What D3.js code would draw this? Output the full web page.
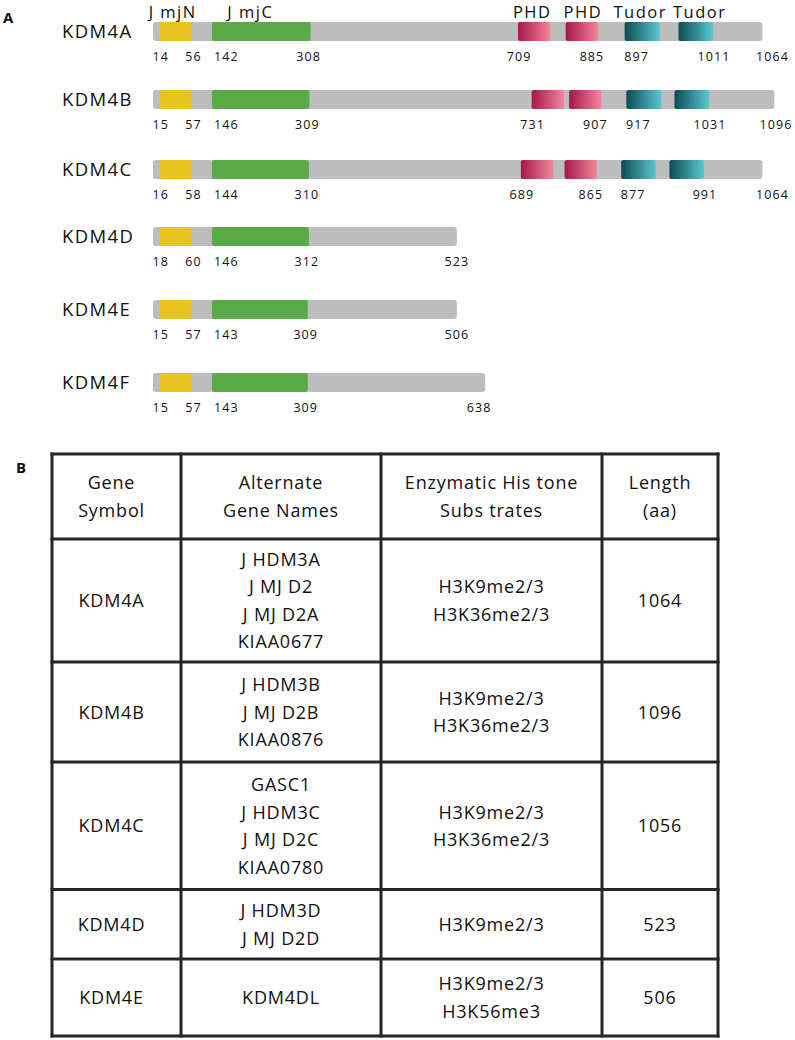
<!DOCTYPE html>
<html>
<head>
<meta charset="utf-8">
<script src="https://cdn.jsdelivr.net/npm/d3@7"></script>
<style>
  html, body { margin: 0; padding: 0; background: #ffffff; }
  svg { display: block; }
  text { font-family: "Open Sans", "Noto Sans", sans-serif; fill: #111111; }
</style>
</head>
<body>
<div id="chart"></div>
<script>
// ---------------- DATA (panel A) ----------------
const proteins = ["KDM4A", "KDM4B", "KDM4C", "KDM4D", "KDM4E", "KDM4F"];
const lengths = [1064, 1096, 1064, 523, 506, 638];
// schematic extents (in aa-like units as drawn in the figure, not to true scale)
const barEnd = [1075, 1096, 1075, 536, 536, 586];
const jmjNSpan = [[12, 68], [12, 68], [12, 68], [12, 68], [12, 68], [12, 68]];
const jmjNLabels = [[14, 56], [15, 57], [16, 58], [18, 60], [15, 57], [15, 57]];
const jmjCSpan = [[104, 278], [104, 276], [104, 275], [104, 275], [104, 273], [104, 273]];
const jmjCLabels = [[142, 308], [146, 309], [144, 310], [146, 312], [143, 309], [143, 309]];
const phdSpan = [[[644, 701], [728, 785]], [[668, 725], [734, 791]], [[649, 706], [726, 783]], [], [], []];
const phdLabels = [[709, 885], [731, 907], [689, 865], [], [], []];
const tudorSpan = [[[832, 894], [927, 988]], [[835, 897], [920, 981]], [[826, 887], [911, 972]], [], [], []];
const tudorLabels = [[897, 1011], [917, 1031], [877, 991], [], [], []];
const domainHeaders = ["J mjN", "J mjC", "PHD", "PHD", "Tudor", "Tudor"];

// ---------------- DATA (panel B) ----------------
const tableHeaders = [["Gene", "Symbol"], ["Alternate", "Gene Names"], ["Enzymatic His tone", "Subs trates"], ["Length", "(aa)"]];
const geneSymbols = ["KDM4A", "KDM4B", "KDM4C", "KDM4D", "KDM4E"];
const alternateNames = [
  ["J HDM3A", "J MJ D2", "J MJ D2A", "KIAA0677"],
  ["J HDM3B", "J MJ D2B", "KIAA0876"],
  ["GASC1", "J HDM3C", "J MJ D2C", "KIAA0780"],
  ["J HDM3D", "J MJ D2D"],
  ["KDM4DL"]
];
const substrates = [
  ["H3K9me2/3", "H3K36me2/3"],
  ["H3K9me2/3", "H3K36me2/3"],
  ["H3K9me2/3", "H3K36me2/3"],
  ["H3K9me2/3"],
  ["H3K9me2/3", "H3K56me3"]
];
const tableLengths = [1064, 1096, 1056, 523, 506];

// ---------------- LAYOUT ----------------
const W = 795, H = 1040;
const svg = d3.select("#chart").append("svg").attr("width", W).attr("height", H);
svg.append("rect").attr("width", W).attr("height", H).attr("fill", "#fff");

const x = d3.scaleLinear().domain([0, 1096]).range([153, 774.3]);
const rowY = d3.scaleOrdinal().domain(proteins).range([22, 90, 160, 227, 300, 373]);
const barH = 19;

const colors = { bar: "#bdbdbd", jmjN: "#e8c420", jmjC: "#5aab47" };

const defs = svg.append("defs");
function grad(id, c0, c1) {
  const g = defs.append("linearGradient").attr("id", id).attr("x1", "0%").attr("x2", "100%").attr("y1", "0%").attr("y2", "0%");
  g.append("stop").attr("offset", "0%").attr("stop-color", c0);
  g.append("stop").attr("offset", "100%").attr("stop-color", c1);
}
grad("gPHD", "#a8164c", "#f2869b");
grad("gTudor", "#0a4d52", "#5cc7d0");

// panel letters
svg.append("text").attr("x", 3).attr("y", 23).attr("font-size", 15).attr("font-weight", 700).text("A");
svg.append("text").attr("x", 16).attr("y", 473).attr("font-size", 15).attr("font-weight", 700).text("B");

const numStyle = sel => sel.attr("font-size", 12.5).attr("letter-spacing", 1.1);

proteins.forEach((p, i) => {
  const g = svg.append("g");
  const y0 = rowY(p);
  const ly = y0 + 38.5;

  g.append("text").attr("x", 62).attr("y", y0 + 16).attr("font-size", 18.5).attr("letter-spacing", 1.4).text(p);

  g.append("rect").attr("x", x(0)).attr("y", y0).attr("width", x(barEnd[i]) - x(0)).attr("height", barH)
    .attr("rx", 3).attr("fill", colors.bar);

  const box = (span, fill) => g.append("rect").attr("x", x(span[0])).attr("y", y0)
    .attr("width", x(span[1]) - x(span[0])).attr("height", barH).attr("rx", 2).attr("fill", fill);

  box(jmjNSpan[i], colors.jmjN);
  box(jmjCSpan[i], colors.jmjC);
  phdSpan[i].forEach(s => box(s, "url(#gPHD)"));
  tudorSpan[i].forEach(s => box(s, "url(#gTudor)"));

  const lab = (px, txt, anchor) => g.append("text").attr("x", px).attr("y", ly)
    .attr("text-anchor", anchor || "middle").call(numStyle).text(txt);

  lab(x(jmjNSpan[i][0]) + 1, jmjNLabels[i][0]);
  lab(x(jmjNSpan[i][1]) + 2, jmjNLabels[i][1]);
  lab(x(jmjCSpan[i][0]) + 2, jmjCLabels[i][0], "start");
  lab(x(jmjCSpan[i][1]) - 2, jmjCLabels[i][1]);
  if (phdSpan[i].length) {
    lab(x(phdSpan[i][0][0]) + 1, phdLabels[i][0]);
    lab(x(phdSpan[i][1][1]) - 6, phdLabels[i][1]);
    lab(x(tudorSpan[i][0][0]) + 12, tudorLabels[i][0]);
    lab(x(tudorSpan[i][1][1]) + 1, tudorLabels[i][1]);
    lab(Math.min(x(barEnd[i]) + 10, W - 19), lengths[i]);
  } else {
    lab(x(barEnd[i]) - (lengths[i] > 600 ? 6 : 0), lengths[i]);
  }
});

// domain headers over first row
const headSpans = [jmjNSpan[0], jmjCSpan[0], phdSpan[0][0], phdSpan[0][1], tudorSpan[0][0], tudorSpan[0][1]];
const headShift = [-3, -11, -2, 1, -2, 4];
headSpans.forEach((s, k) => {
  svg.append("text").attr("x", (x(s[0]) + x(s[1])) / 2 + headShift[k]).attr("y", 17.5)
    .attr("text-anchor", "middle").attr("font-size", 16.5).attr("letter-spacing", 1.5).text(domainHeaders[k]);
});

// ---------------- TABLE ----------------
const colX = [52, 181, 381, 602, 718];
const rowLines = [454, 539, 662, 762, 889.5, 959, 1036];
const lineGap = 27.5;
const tg = svg.append("g");

function cell(ci, ri, lines) {
  const cx = (colX[ci] + colX[ci + 1]) / 2 + (ci === 0 ? -5 : 0);
  const cy = (rowLines[ri] + rowLines[ri + 1]) / 2;
  const n = lines.length;
  lines.forEach((t, k) => {
    tg.append("text").attr("x", cx).attr("y", cy + (k - (n - 1) / 2) * lineGap + 6.5)
      .attr("text-anchor", "middle").attr("font-size", 18).attr("letter-spacing", 0.8).text(t);
  });
}
tableHeaders.forEach((h, c) => cell(c, 0, h));
geneSymbols.forEach((g, r) => {
  cell(0, r + 1, [g]);
  cell(1, r + 1, alternateNames[r]);
  cell(2, r + 1, substrates[r]);
  cell(3, r + 1, [String(tableLengths[r])]);
});

const lineColor = "#262626";
rowLines.forEach(y => tg.append("line").attr("x1", colX[0]).attr("x2", colX[4]).attr("y1", y).attr("y2", y)
  .attr("stroke", lineColor).attr("stroke-width", 3).attr("stroke-linecap", "square"));
colX.forEach(cx => tg.append("line").attr("x1", cx).attr("x2", cx).attr("y1", rowLines[0]).attr("y2", rowLines[rowLines.length - 1])
  .attr("stroke", lineColor).attr("stroke-width", 3).attr("stroke-linecap", "square"));
</script>
</body>
</html>
